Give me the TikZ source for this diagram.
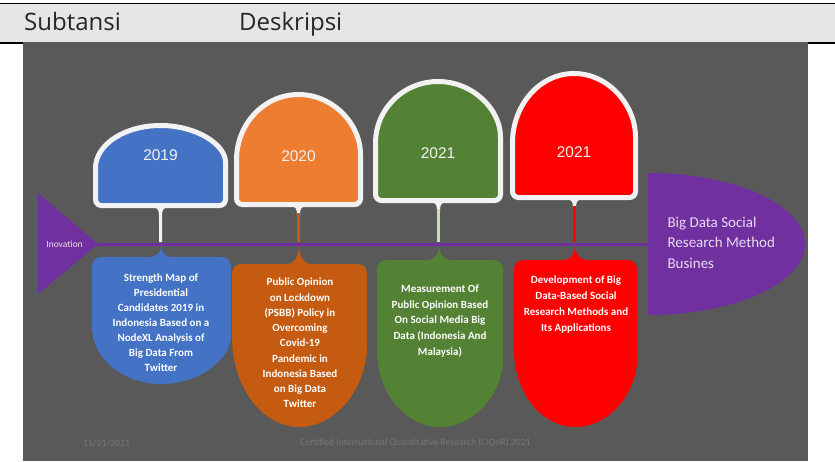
\documentclass[tikz,border=0pt]{standalone}
\usepackage{fontspec}
\setmainfont{Carlito}
\newfontfamily\headfont{Open Sans}
\newfontfamily\yearfont{Liberation Sans}

\definecolor{slide}{HTML}{595959}
\definecolor{band}{HTML}{E6E6E6}
\definecolor{inovpurple}{HTML}{7030A0}
\definecolor{blue19}{HTML}{4472C4}
\definecolor{orange20}{HTML}{ED7D31}
\definecolor{rust20}{HTML}{C55A11}
\definecolor{green21}{HTML}{548235}
\definecolor{pale21}{HTML}{C9DDB8}
\definecolor{red21}{HTML}{FF0000}
\definecolor{rim}{HTML}{F2F2F2}
\definecolor{lavender}{HTML}{E8DCF2}
\definecolor{foot}{HTML}{777777}

\tikzstyle{head}=[anchor=base west, inner sep=0pt, text=black!85, font=\headfont\fontsize{24}{28}\selectfont]
\tikzstyle{bubble}=[draw=rim, line width=5pt]
\tikzstyle{year}=[text=rim, font=\yearfont\fontsize{15.5}{18}\selectfont]
\tikzstyle{desc}=[align=center, text=white, inner sep=0pt, font=\bfseries\fontsize{11}{15}\selectfont]
\tikzstyle{timeline}=[inovpurple, line width=3pt]
\tikzstyle{footer}=[text=foot, font=\fontsize{9.7}{11}\selectfont]

\begin{document}
\begin{tikzpicture}[x=1pt,y=-1pt]
    \useasboundingbox (0,0) rectangle (835,461);

    % Header row
    \fill[band] (0,4) rectangle (835,42);
    \draw[line width=1.6pt] (0,3.5) -- (835,3.5);
    \draw[line width=2pt] (0,42.8) -- (835,42.8);
    \draw (24,30) node[head] (subtansi) {Subtansi};
    \draw (239,30) node[head] (deskripsi) {Deskripsi};

    % Slide
    \fill[slide] (23,42) rectangle (808,461);

    % Timeline ends
    \fill[inovpurple] (38,193) -- (98,244) -- (38,294) -- cycle;
    \fill[inovpurple] (648,173) arc[start angle=-90, end angle=90, x radius=157, y radius=71] -- cycle;
    \coordinate (inov) at (96,244);
    \coordinate (busines) at (650,244);

    % Stems
    \fill[rim] (152,207) .. controls (158.5,207) and (159,211) .. (159,217) -- (159,242) -- (162,242) -- (162,217) .. controls (162,211) and (162.5,207) .. (169,207) -- cycle;
    \fill[rim] (290,206) .. controls (296.5,206) and (297,210) .. (297,215) -- (300,215) .. controls (300,210) and (300.5,206) .. (307,206) -- cycle;
    \draw[rust20, line width=3pt] (298.5,213) -- (298.5,242);
    \fill[rim] (430,202) .. controls (436.5,202) and (437,206) .. (437,211) -- (440,211) .. controls (440,206) and (440.5,202) .. (447,202) -- cycle;
    \draw[pale21, line width=3pt] (438.5,209) -- (438.5,242);
    \fill[rim] (566,199) .. controls (572.5,199) and (573,203) .. (573,208) -- (576,208) .. controls (576,203) and (576.5,199) .. (583,199) -- cycle;
    \draw[red21, line width=3pt] (574.5,206) -- (574.5,242);

    \draw[timeline] (inov) -- (busines);

    % Years
    \draw[bubble, fill=blue19] (225.5,168) arc[start angle=0, end angle=-180, x radius=65, y radius=42.5] [rounded corners=6pt] -- (95.5,205.5) -- (225.5,205.5) -- cycle;
    \draw[bubble, fill=orange20] (360.5,160) arc[start angle=0, end angle=-180, x radius=62, y radius=65.5] [rounded corners=6pt] -- (236.5,204.5) -- (360.5,204.5) -- cycle;
    \draw[bubble, fill=green21] (500.5,143) arc[start angle=0, end angle=-180, x radius=62.5, y radius=61.5] [rounded corners=6pt] -- (375.5,200.5) -- (500.5,200.5) -- cycle;
    \draw[bubble, fill=red21] (635.5,143) arc[start angle=0, end angle=-180, x radius=61.5, y radius=69.5] [rounded corners=6pt] -- (512.5,197.5) -- (635.5,197.5) -- cycle;
    \draw (160.5,155) node[year] (y19) {2019};
    \draw (298.5,156) node[year] (y20) {2020};
    \draw (438,153) node[year] (y21) {2021};
    \draw (574,152) node[year] (y21b) {2021};

    % Descriptions
    \fill[blue19] (231,327) arc[start angle=0, end angle=180, x radius=69.5, y radius=57] [rounded corners=9pt] -- (92,257) -- (231,257) -- cycle;
    \fill[blue19] (161,246) .. controls (161,252) and (165,257) .. (173,257) -- (173,260) -- (149,260) -- (149,257) .. controls (157,257) and (161,252) .. (161,246);
    \fill[rust20] (367,337) arc[start angle=0, end angle=180, x radius=67.5, y radius=90] [rounded corners=9pt] -- (232,264) -- (367,264) -- cycle;
    \fill[rust20] (299,246) .. controls (299,254) and (303,264) .. (311,264) -- (311,267) -- (287,267) -- (287,264) .. controls (295,264) and (299,254) .. (299,246);
    \fill[green21] (503,350) arc[start angle=0, end angle=180, x radius=63, y radius=77] [rounded corners=9pt] -- (377,260) -- (503,260) -- cycle;
    \fill[green21] (439,246) .. controls (439,253) and (443,260) .. (451,260) -- (451,263) -- (427,263) -- (427,260) .. controls (435,260) and (439,253) .. (439,246);
    \fill[red21] (637,350) arc[start angle=0, end angle=180, x radius=61.5, y radius=77] [rounded corners=9pt] -- (514,260) -- (637,260) -- cycle;
    \fill[red21] (575,246) .. controls (575,253) and (579,260) .. (587,260) -- (587,263) -- (563,263) -- (563,260) .. controls (571,260) and (575,253) .. (575,246);

    \draw (161,323) node[desc] (d19) {Strength Map of\\Presidential\\Candidates 2019 in\\Indonesia Based on a\\NodeXL Analysis of\\Big Data From\\Twitter};
    \draw (300,343) node[desc, font=\bfseries\fontsize{11}{15.25}\selectfont] (d20) {Public Opinion\\on Lockdown\\(PSBB) Policy in\\Overcoming\\Covid-19\\Pandemic in\\Indonesia Based\\on Big Data\\Twitter};
    \draw (440,321) node[desc, font=\bfseries\fontsize{11}{15.75}\selectfont] (d21) {Measurement Of\\Public Opinion Based\\On Social Media Big\\Data (Indonesia And\\Malaysia)};
    \draw (576,304) node[desc, font=\bfseries\fontsize{11}{16}\selectfont] (d21b) {Development of Big\\Data-Based Social\\Research Methods and\\Its Applications};

    % Labels at both ends
    \draw (64.5,244) node[text=lavender, font=\fontsize{9.5}{11}\selectfont] (inovation) {Inovation};
    \draw (664,242.5) node[anchor=west, align=left, text=lavender, font=\fontsize{15}{20.5}\selectfont] (method) {Big Data Social\\Research Method\\Busines};

    % Footer
    \draw (106.5,443) node[footer] (date) {11/21/2021};
    \draw (415.5,443) node[footer] (ciqnr) {Certified International Quantitative Research (CIQnR) 2021};
\end{tikzpicture}
\end{document}
